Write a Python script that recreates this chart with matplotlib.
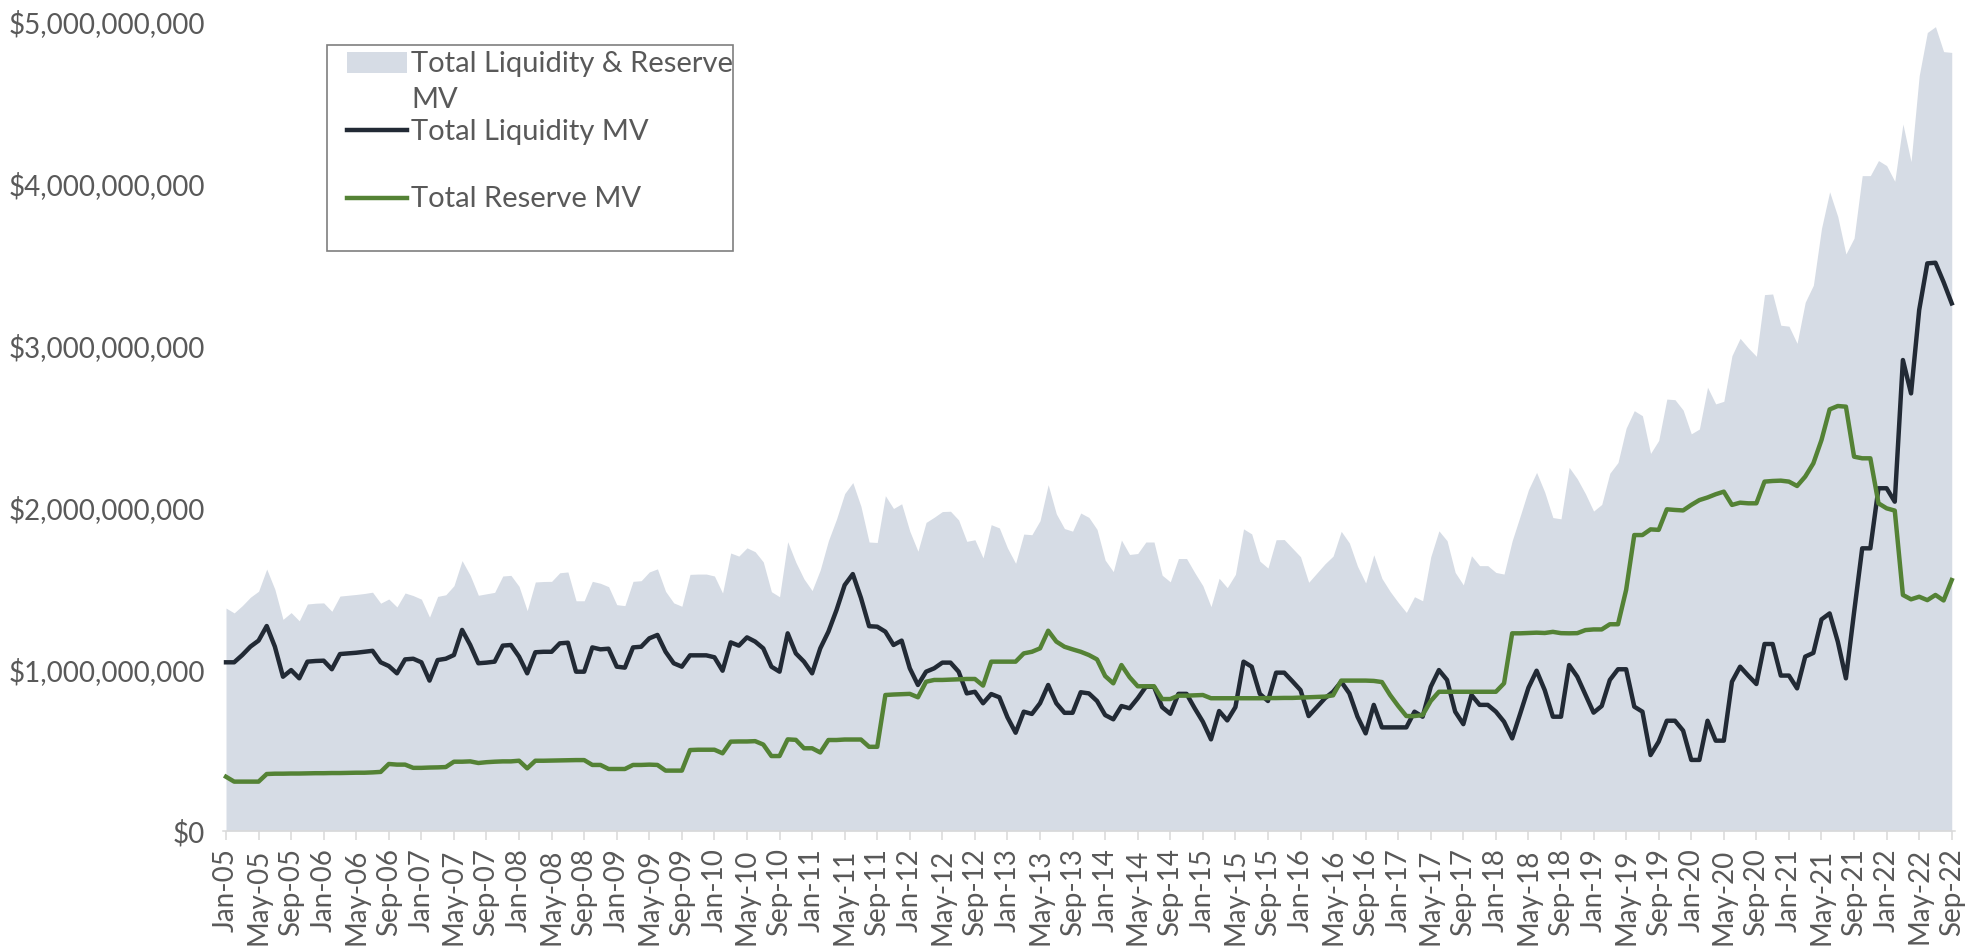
import matplotlib.pyplot as plt
import matplotlib.ticker as mticker
from matplotlib.lines import Line2D
from matplotlib.patches import Rectangle
import numpy as np
import pandas as pd

plt.rcParams['font.family'] = ['Lato', 'DejaVu Sans']

months = pd.date_range("2005-01-01", "2022-09-01", freq="MS")
month_labels = list(months.strftime("%b-%y"))

# market values in $ billions (Jan-05 .. Sep-22)
liquidity = [
    1.042, 1.042, 1.087, 1.139, 1.176, 1.266, 1.139, 0.953, 0.994, 0.943, 1.046, 1.050,
    1.052, 0.999, 1.093, 1.097, 1.101, 1.107, 1.113, 1.042, 1.019, 0.974, 1.060, 1.064,
    1.042, 0.929, 1.056, 1.064, 1.087, 1.242, 1.149, 1.036, 1.040, 1.046, 1.145, 1.149,
    1.077, 0.974, 1.104, 1.107, 1.107, 1.159, 1.163, 0.984, 0.984, 1.134, 1.122, 1.126,
    1.015, 1.009, 1.134, 1.138, 1.190, 1.211, 1.107, 1.036, 1.015, 1.085, 1.085, 1.085,
    1.073, 0.990, 1.165, 1.145, 1.196, 1.170, 1.128, 1.015, 0.984, 1.221, 1.097, 1.046,
    0.974, 1.128, 1.231, 1.365, 1.519, 1.587, 1.440, 1.265, 1.262, 1.231, 1.149, 1.176,
    1.005, 0.902, 0.984, 1.005, 1.040, 1.040, 0.984, 0.850, 0.860, 0.789, 0.846, 0.826,
    0.702, 0.607, 0.737, 0.723, 0.789, 0.902, 0.789, 0.730, 0.730, 0.857, 0.850, 0.803,
    0.716, 0.690, 0.772, 0.758, 0.820, 0.891, 0.891, 0.765, 0.724, 0.847, 0.847, 0.758,
    0.675, 0.566, 0.741, 0.683, 0.765, 1.046, 1.015, 0.847, 0.803, 0.978, 0.978, 0.925,
    0.870, 0.710, 0.765, 0.820, 0.860, 0.922, 0.850, 0.706, 0.603, 0.779, 0.640, 0.640,
    0.640, 0.640, 0.737, 0.706, 0.891, 0.994, 0.933, 0.737, 0.660, 0.840, 0.779, 0.779,
    0.737, 0.675, 0.572, 0.727, 0.885, 0.990, 0.870, 0.706, 0.706, 1.025, 0.953, 0.842,
    0.731, 0.772, 0.933, 0.999, 0.999, 0.768, 0.737, 0.469, 0.552, 0.681, 0.681, 0.620,
    0.439, 0.439, 0.681, 0.558, 0.558, 0.922, 1.015, 0.960, 0.908, 1.155, 1.155, 0.960,
    0.960, 0.881, 1.077, 1.100, 1.307, 1.344, 1.170, 0.943, 1.350, 1.746, 1.746, 2.117,
    2.117, 2.034, 2.909, 2.703, 3.218, 3.506, 3.510, 3.390, 3.259,
]
reserve = [
    0.335, 0.305, 0.305, 0.305, 0.305, 0.352, 0.354, 0.354, 0.355, 0.355, 0.356, 0.357,
    0.357, 0.358, 0.358, 0.359, 0.360, 0.360, 0.362, 0.365, 0.414, 0.410, 0.410, 0.390,
    0.390, 0.392, 0.393, 0.395, 0.428, 0.428, 0.430, 0.420, 0.425, 0.428, 0.430, 0.430,
    0.434, 0.387, 0.434, 0.434, 0.435, 0.436, 0.437, 0.438, 0.438, 0.408, 0.408, 0.383,
    0.383, 0.383, 0.408, 0.408, 0.410, 0.408, 0.373, 0.373, 0.373, 0.500, 0.502, 0.502,
    0.502, 0.480, 0.552, 0.553, 0.553, 0.555, 0.534, 0.463, 0.463, 0.566, 0.563, 0.511,
    0.511, 0.485, 0.562, 0.562, 0.565, 0.565, 0.565, 0.520, 0.520, 0.840, 0.843, 0.845,
    0.847, 0.826, 0.922, 0.933, 0.933, 0.935, 0.937, 0.939, 0.939, 0.898, 1.046, 1.046,
    1.046, 1.046, 1.097, 1.107, 1.128, 1.237, 1.170, 1.138, 1.122, 1.107, 1.087, 1.060,
    0.957, 0.912, 1.025, 0.950, 0.894, 0.894, 0.894, 0.815, 0.815, 0.836, 0.836, 0.838,
    0.840, 0.820, 0.820, 0.820, 0.820, 0.820, 0.820, 0.820, 0.821, 0.821, 0.822, 0.822,
    0.824, 0.826, 0.828, 0.830, 0.838, 0.929, 0.929, 0.929, 0.929, 0.927, 0.920, 0.840,
    0.772, 0.710, 0.710, 0.716, 0.803, 0.860, 0.860, 0.860, 0.860, 0.860, 0.860, 0.860,
    0.860, 0.912, 1.221, 1.221, 1.223, 1.225, 1.223, 1.230, 1.222, 1.221, 1.222, 1.241,
    1.245, 1.245, 1.277, 1.277, 1.489, 1.828, 1.828, 1.863, 1.860, 1.987, 1.983, 1.980,
    2.014, 2.044, 2.060, 2.080, 2.096, 2.014, 2.028, 2.024, 2.024, 2.158, 2.162, 2.164,
    2.158, 2.131, 2.189, 2.271, 2.415, 2.604, 2.625, 2.621, 2.312, 2.302, 2.302, 2.024,
    1.993, 1.979, 1.458, 1.431, 1.447, 1.426, 1.458, 1.424, 1.550,
]

area_color = '#D6DCE5'
liq_color = '#222A35'
res_color = '#548235'
text_color = '#595959'

x = np.arange(len(months))
total = np.array(liquidity) + np.array(reserve)

W, H = 1981, 946
fig = plt.figure(figsize=(W / 100, H / 100), dpi=100)
ax = fig.add_axes([223 / W, 115 / H, (1955 - 223) / W, (831 - 21.5) / H])

ax.fill_between(x, total, color=area_color, lw=0)
ax.plot(x, liquidity, color=liq_color, lw=3.2)
ax.plot(x, reserve, color=res_color, lw=3.2)

ax.set_xlim(-0.37, 212.4)
ax.set_ylim(0, 5)
ax.set_yticks(range(6))
ax.yaxis.set_major_formatter(mticker.FuncFormatter(lambda v, _: f"${v * 1e9:,.0f}"))
ax.set_xticks(x[::4])
ax.set_xticklabels(month_labels[::4], rotation=90)

ax.tick_params(axis='y', length=0, pad=13, labelsize=20, labelcolor=text_color)
ax.tick_params(axis='x', length=6.5, width=1.1, color='#D9D9D9', pad=6,
               labelsize=20, labelcolor=text_color)
for side in ['top', 'right', 'left']:
    ax.spines[side].set_visible(False)
ax.spines['bottom'].set_color('#D9D9D9')
ax.spines['bottom'].set_linewidth(1.1)


# legend box laid out like the Excel one (pixel positions from the top-left corner)
def fx(px):
    return px / W


def fy(py):
    return 1 - py / H


fig.add_artist(Rectangle((fx(327), fy(251)), fx(733) - fx(327), fy(45) - fy(251),
                         transform=fig.transFigure, facecolor='white',
                         edgecolor='#7F7F7F', lw=1.2, zorder=5))
fig.add_artist(Rectangle((fx(347), fy(73)), fx(407) - fx(347), fy(52) - fy(73),
                         transform=fig.transFigure, facecolor=area_color,
                         edgecolor='none', zorder=6))
fig.add_artist(Line2D([fx(347), fx(407)], [fy(130), fy(130)], transform=fig.transFigure,
                      color=liq_color, lw=3.2, zorder=6))
fig.add_artist(Line2D([fx(347), fx(407)], [fy(198), fy(198)], transform=fig.transFigure,
                      color=res_color, lw=3.2, zorder=6))

legend_texts = [('Total Liquidity & Reserve', 72), ('MV', 108.5),
                ('Total Liquidity MV', 140), ('Total Reserve MV', 207)]
for label, base in legend_texts:
    fig.text(fx(411), fy(base), label, fontsize=21, color=text_color,
             va='baseline', ha='left', zorder=7)

fig.savefig('out.png', dpi=100)
